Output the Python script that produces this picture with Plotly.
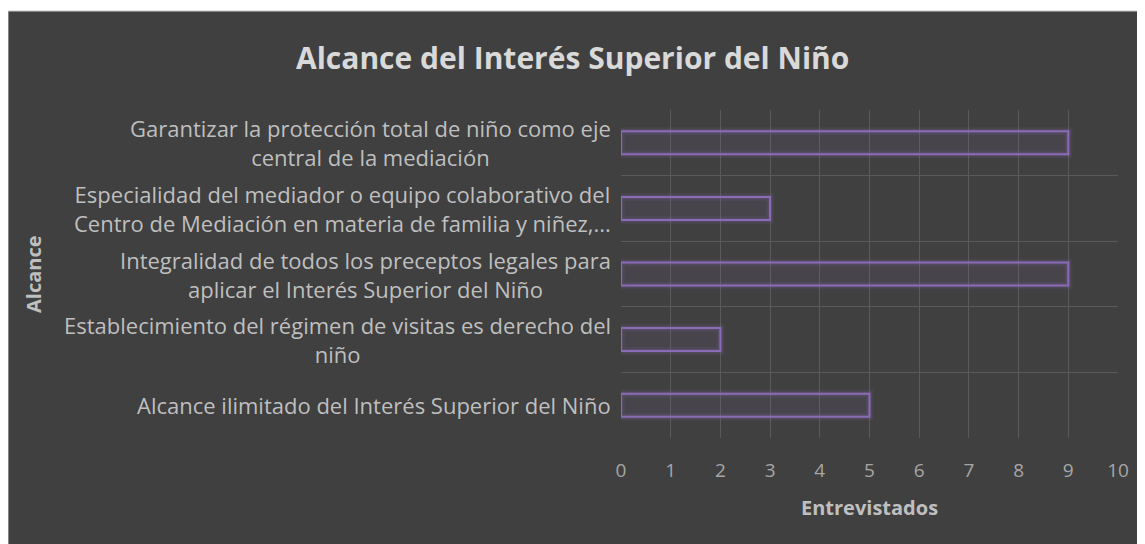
import plotly.graph_objects as go

categories = [
    "Garantizar la protección total de niño como eje<br>central de la mediación",
    "Especialidad del mediador o equipo colaborativo del<br>Centro de Mediación en materia de familia y niñez,...",
    "Integralidad de todos los preceptos legales para<br>aplicar el Interés Superior del Niño",
    "Establecimiento del régimen de visitas es derecho del<br>niño",
    "Alcance ilimitado del Interés Superior del Niño",
]
values = [9, 3, 9, 2, 5]
x_ticks = list(range(0, 11))

title_text = "Alcance del Interés Superior del Niño"
x_title = "Entrevistados"
y_title = "Alcance"

# page has an 8px body margin; figure coordinates are page coordinates - 8
OFF = 8
W, H = 1145 - OFF, 544 - OFF
L, R, T, B = 621 - OFF, 1118 - OFF, 110 - OFF, 438 - OFF
pw, ph = R - L, B - T

BG = "#404040"
PURPLE = "#8a6bb5"
FONT = "Open Sans"

fig = go.Figure()
# soft glow layers
fig.add_trace(go.Bar(
    y=categories, x=values, orientation="h", width=0.35,
    marker=dict(color="rgba(0,0,0,0)", line=dict(color="rgba(138,107,181,0.10)", width=8)),
    hoverinfo="skip", showlegend=False,
))
fig.add_trace(go.Bar(
    y=categories, x=values, orientation="h", width=0.35,
    marker=dict(color="rgba(0,0,0,0)", line=dict(color="rgba(138,107,181,0.18)", width=4.5)),
    hoverinfo="skip", showlegend=False,
))
fig.add_trace(go.Bar(
    y=categories, x=values, orientation="h", width=0.35,
    marker=dict(color="rgba(138,107,181,0.10)", line=dict(color=PURPLE, width=2)),
    showlegend=False,
))

annotations = []
for c in categories:
    annotations.append(dict(
        x=0, xref="paper", y=c, yref="y", text=c, showarrow=False,
        xanchor="right", yanchor="middle", align="center", xshift=-8,
        font=dict(family=FONT, size=22, color="#bfbfbf"),
    ))
annotations.append(dict(
    x=0.5, xref="paper", y=0, yref="paper", text="<b>%s</b>" % x_title, showarrow=False,
    xanchor="center", yanchor="middle", yshift=-69,
    font=dict(family=FONT, size=20, color="#bfbfbf"),
))
annotations.append(dict(
    x=0, xref="paper", y=0.5, yref="paper", text="<b>%s</b>" % y_title, showarrow=False,
    xanchor="center", yanchor="middle", xshift=-(L - (33 - OFF)), textangle=-90,
    font=dict(family=FONT, size=20, color="#bfbfbf"),
))
annotations.append(dict(
    x=0.5, xref="paper", y=1, yref="paper", text="<b>%s</b>" % title_text, showarrow=False,
    xanchor="center", yanchor="middle", yshift=(T - (57 - OFF)),
    xshift=((572 - OFF) - (L + R) / 2),
    font=dict(family=FONT, size=30, color="#d9d9d9"),
))

shapes = [dict(
    type="rect", xref="paper", yref="paper", layer="below",
    x0=(0 - L) / pw, x1=(W + 5 - L) / pw,
    y0=(B - (H + 5)) / ph, y1=(B - (11 - OFF)) / ph,
    fillcolor=BG, line=dict(color="#c8c8c8", width=1),
)]

fig.update_layout(
    width=W, height=H,
    margin=dict(l=L, r=W - R, t=T, b=H - B, pad=0),
    paper_bgcolor="white", plot_bgcolor=BG,
    barmode="overlay",
    annotations=annotations, shapes=shapes,
    xaxis=dict(
        range=[0, 10], tickvals=x_ticks, ticktext=[str(v) for v in x_ticks],
        showgrid=True, gridcolor="#5a5a5a", gridwidth=1, zeroline=False,
        ticks="outside", ticklen=15, tickcolor="rgba(0,0,0,0)",
        tickfont=dict(family=FONT, size=19, color="#a6a6a6"),
        showline=False, fixedrange=True,
    ),
    yaxis=dict(
        type="category", autorange="reversed", tickson="boundaries",
        showgrid=True, gridcolor="#5a5a5a", gridwidth=1,
        showticklabels=False, ticks="", showline=False, fixedrange=True,
    ),
)

fig.write_html("out.html")
